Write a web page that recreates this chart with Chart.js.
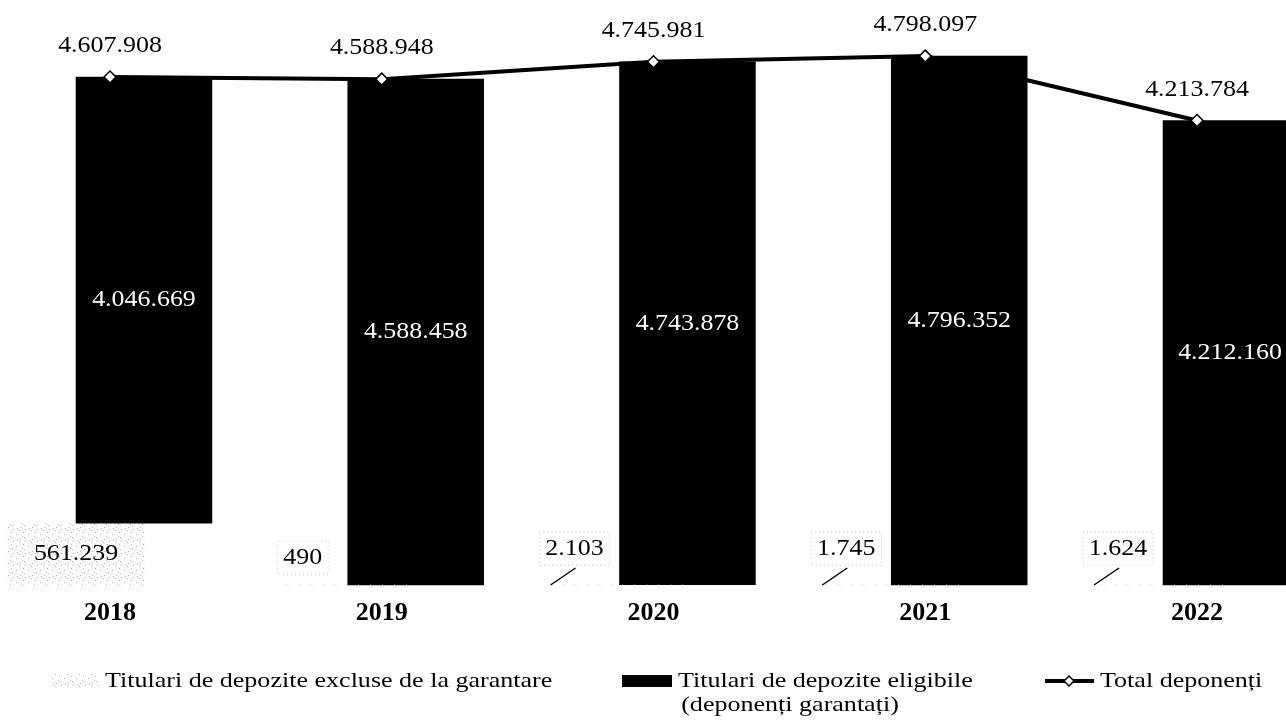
<!DOCTYPE html>
<html>
<head>
<meta charset="utf-8">
<script src="https://cdn.jsdelivr.net/npm/chart.js@4"></script>
<style>
  html, body { margin: 0; padding: 0; background: #fff; }
  #wrap { width: 1286px; height: 723px; position: relative; }
</style>
</head>
<body>
<div id="wrap"><canvas id="myChart"></canvas></div>
<script>
const years    = ['2018', '2019', '2020', '2021', '2022'];
const excluded = [561239, 490, 2103, 1745, 1624];
const eligible = [4046669, 4588458, 4743878, 4796352, 4212160];
const total    = [4607908, 4588948, 4745981, 4798097, 4213784];

const serif = '"Liberation Serif", "Times New Roman", serif';
const fmt = v => v.toString().replace(/\B(?=(\d{3})+(?!\d))/g, '.');

// sparse light speckle for the excluded series
const makeSpeckle = () => {
    const c = document.createElement('canvas');
    c.width = 12; c.height = 12;
    const g = c.getContext('2d');
    g.fillStyle = '#b4b4b4';
    [[1, 1], [7, 2], [4, 6], [10, 8], [0, 9], [8, 11], [5, 0], [11, 4]].forEach(([x, y]) => g.fillRect(x, y, 1, 1));
    return g.createPattern(c, 'repeat');
};
const speckle = makeSpeckle();

// text drawn slightly wider than the font, like the scanned original
const text = (ctx, s, x, y, sx, align) => {
    ctx.save();
    ctx.translate(x, y);
    ctx.scale(sx, 1);
    ctx.textAlign = align || 'center';
    ctx.fillText(s, 0, 0);
    ctx.restore();
};

const labelsPlugin = {
    id: 'labels',
    afterDatasetsDraw(chart) {
        const ctx = chart.ctx;
        const lineMeta = chart.getDatasetMeta(0);
        const greyMeta = chart.getDatasetMeta(1);
        const blackMeta = chart.getDatasetMeta(2);
        const base = chart.scales.y.getPixelForValue(0);
        ctx.save();
        ctx.textBaseline = 'middle';
        ctx.font = '24px ' + serif;

        // totals above the markers
        ctx.fillStyle = '#000';
        lineMeta.data.forEach((p, i) => text(ctx, fmt(total[i]), p.x, p.y - 31, 1.08));

        // eligible, white inside black bars
        ctx.fillStyle = '#fff';
        blackMeta.data.forEach((b, i) => {
            text(ctx, fmt(eligible[i]), Math.min(b.x, 1230), (b.y + b.base) / 2, 1.08);
        });

        // excluded
        ctx.fillStyle = '#000';
        greyMeta.data.forEach((b, i) => {
            const txt = fmt(excluded[i]);
            if (i === 0) {
                text(ctx, txt, b.x, (b.y + b.base) / 2, 1.08);
                return;
            }
            const small = excluded[i] < 1000;
            const lx = b.x - 45, ly = small ? base - 27 : base - 36;
            const w = ctx.measureText(txt).width * 1.08;
            ctx.save();
            ctx.strokeStyle = '#c4c4c4';
            ctx.lineWidth = 1;
            ctx.setLineDash([1, 3]);
            ctx.strokeRect(lx - w / 2 - 6, ly - 17, w + 12, 33);
            ctx.restore();
            text(ctx, txt, lx, ly, 1.08);
            if (!small) {
                ctx.beginPath();
                ctx.lineWidth = 1.5;
                ctx.strokeStyle = '#000';
                ctx.moveTo(lx - 24, base);
                ctx.lineTo(lx + 1, base - 17);
                ctx.stroke();
            }
        });

        // category labels
        ctx.font = 'bold 26px ' + serif;
        const xs = chart.scales.x;
        years.forEach((y, i) => text(ctx, y, xs.getPixelForValue(i), base + 28, 1));
        ctx.restore();
    },
    afterDraw(chart) {
        const ctx = chart.ctx;
        ctx.save();
        ctx.font = '21px ' + serif;
        ctx.textBaseline = 'middle';
        const y = 681;
        const sx = 1.24;
        // excluded
        ctx.fillStyle = speckle;
        ctx.fillRect(52, y - 7, 48, 14);
        ctx.fillStyle = '#000';
        text(ctx, 'Titulari de depozite excluse de la garantare', 105, y, sx, 'left');
        // eligible
        ctx.fillRect(622, y - 6, 50, 12);
        text(ctx, 'Titulari de depozite eligibile', 678, y, sx, 'left');
        text(ctx, '(deponenți garantați)', 790, y + 24, sx, 'center');
        // total
        ctx.lineWidth = 4;
        ctx.strokeStyle = '#000';
        ctx.beginPath();
        ctx.moveTo(1045, y);
        ctx.lineTo(1094, y);
        ctx.stroke();
        ctx.fillStyle = '#fff';
        ctx.lineWidth = 1.5;
        ctx.beginPath();
        ctx.moveTo(1069, y - 5); ctx.lineTo(1074, y); ctx.lineTo(1069, y + 5); ctx.lineTo(1064, y);
        ctx.closePath();
        ctx.fill(); ctx.stroke();
        ctx.fillStyle = '#000';
        text(ctx, 'Total deponenți', 1100, y, sx, 'left');
        ctx.restore();
    }
};

new Chart(document.getElementById('myChart'), {
    data: {
        labels: years,
        datasets: [{
            type: 'line',
            label: 'Total deponenți',
            data: total,
            order: 0,
            borderColor: '#000',
            borderWidth: 4,
            pointStyle: 'rectRot',
            pointRadius: 6,
            pointBackgroundColor: '#fff',
            pointBorderColor: '#000',
            pointBorderWidth: 1.5,
            tension: 0,
            clip: false
        }, {
            type: 'bar',
            label: 'Titulari de depozite excluse de la garantare',
            data: excluded,
            order: 1,
            backgroundColor: speckle,
            categoryPercentage: 0.5,
            barPercentage: 2,
            clip: false
        }, {
            type: 'bar',
            label: 'Titulari de depozite eligibile (deponenți garantați)',
            data: eligible.map((v, i) => [excluded[i], excluded[i] + v]),
            order: 2,
            backgroundColor: '#000',
            categoryPercentage: 0.5,
            barPercentage: 2,
            clip: false
        }]
    },
    options: {
        responsive: true,
        maintainAspectRatio: false,
        animation: false,
        layout: { autoPadding: false, padding: { left: 110, right: 89, top: 0, bottom: 138 } },
        scales: {
            x: {
                display: false,
                offset: false
            },
            y: {
                display: false,
                min: 0,
                max: 5307000
            }
        },
        plugins: {
            legend: { display: false },
            tooltip: { enabled: false }
        }
    },
    plugins: [labelsPlugin]
});
</script>
</body>
</html>
